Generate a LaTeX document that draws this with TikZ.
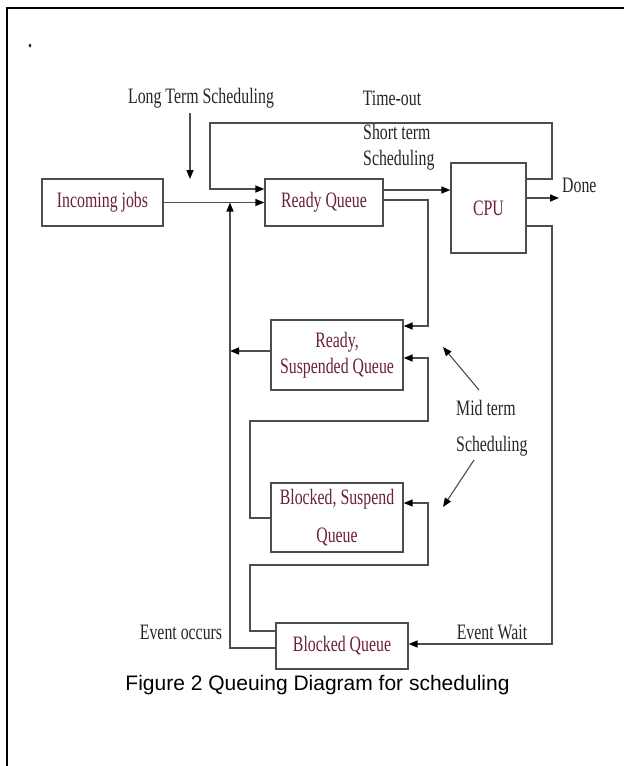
\documentclass[tikz,border=0pt]{standalone}
\usepackage{fontspec}
\setmainfont{Liberation Serif}[FakeStretch=0.72]
\newfontfamily\capfont{Liberation Sans}
\usetikzlibrary{arrows.meta}
\definecolor{qred}{HTML}{6B2238}
\definecolor{wire}{HTML}{4D4D4D}
\definecolor{ink}{HTML}{262626}

\begin{document}
\begin{tikzpicture}[x=1pt, y=-1pt,
    q/.style={draw=wire, line width=1.3pt, fill=white, text=qred, align=center,
      inner sep=0pt, font=\fontsize{22}{26}\selectfont},
    lbl/.style={text=ink, inner sep=0pt, font=\fontsize{22}{26}\selectfont},
    ln/.style={draw=wire, line width=1.4pt},
    arr/.style={ln, -{Triangle[length=9pt, width=7pt, color=black]}}]
  \useasboundingbox (0,0) rectangle (624,766);
  \draw[line width=2.2pt] (624,8) -- (7,8) -- (7,766);

  \node[q, minimum width=121pt, minimum height=47pt] (inc) at (102.5,202.5) {Incoming jobs};
  \node[q, minimum width=118pt, minimum height=47pt] (rq)  at (324,202.5)   {Ready Queue};
  \node[q, minimum width=75pt,  minimum height=90pt] (cpu) at (488.5,208)   {CPU};
  \node[q, minimum width=132pt, minimum height=70pt] (rsq) at (337,355)     {Ready,\\Suspended Queue};
  \node[q, minimum width=132pt, minimum height=69pt] (bsq) at (337,517.5)   {Blocked, Suspend\\[12pt]Queue};
  \node[q, minimum width=132pt, minimum height=46pt] (bq)  at (342,646)     {Blocked Queue};

  \node[lbl, anchor=base, font=\bfseries\fontsize{22}{26}\selectfont] (dot) at (30,47) {.};
  \node[lbl] (lts) at (201,98) {Long Term Scheduling};
  \node[lbl] (tmo) at (392,98) {Time-out};
  \node[lbl, anchor=west, align=left] (sts) at (363,147.5) {Short term\\Scheduling};
  \node[lbl, anchor=west] (done) at (562,185) {Done};
  \node[lbl, anchor=west] (mt1) at (456,408) {Mid term};
  \node[lbl, anchor=west] (mt2) at (456,446) {Scheduling};
  \node[lbl] (evo) at (181,632) {Event occurs};
  \node[lbl] (evw) at (492,632) {Event Wait};
  \node[inner sep=0pt, font=\capfont\fontsize{21}{25}\selectfont] (cap) at (317.5,685)
    {Figure 2 Queuing Diagram for scheduling};

  \coordinate (lt1) at (190,113);
  \coordinate (lt2) at (190,179);
  \coordinate (dn) at (559,198);
  \coordinate (m1) at (479,390);
  \coordinate (m1t) at (443,347);
  \coordinate (m2) at (474,460);
  \coordinate (m2t) at (443,507);

  \draw[arr] (inc.east) -- (rq.west);
  \draw[arr] (lt1) -- (lt2);
  \draw[arr] (cpu.east |- 0,179) -- (552,179) -- (552,123) -- (210,123) -- (210,189) -- (rq.west |- 0,189);
  \draw[arr] (rq.east |- 0,190) -- (cpu.west |- 0,190);
  \draw[arr] (cpu.east |- 0,198) -- (dn);
  \draw[arr] (rq.east |- 0,200) -| (428,326) -- (rsq.east |- 0,326);
  \draw[arr] (cpu.east |- 0,226) -| (552,644) -- (bq.east |- 0,644);
  \draw[arr] (rsq.west |- 0,351) -- (230,351);
  \draw[arr] (bq.west |- 0,648) -| (230,202.5);
  \draw[arr] (bq.west |- 0,631) -| (250,565) -| (428,503) -- (bsq.east |- 0,503);
  \draw[arr] (bsq.west |- 0,518) -| (250,421) -| (428,358) -- (rsq.east |- 0,358);
  \draw[arr, line width=1.1pt] (m1) -- (m1t);
  \draw[arr, line width=1.1pt] (m2) -- (m2t);
\end{tikzpicture}
\end{document}
